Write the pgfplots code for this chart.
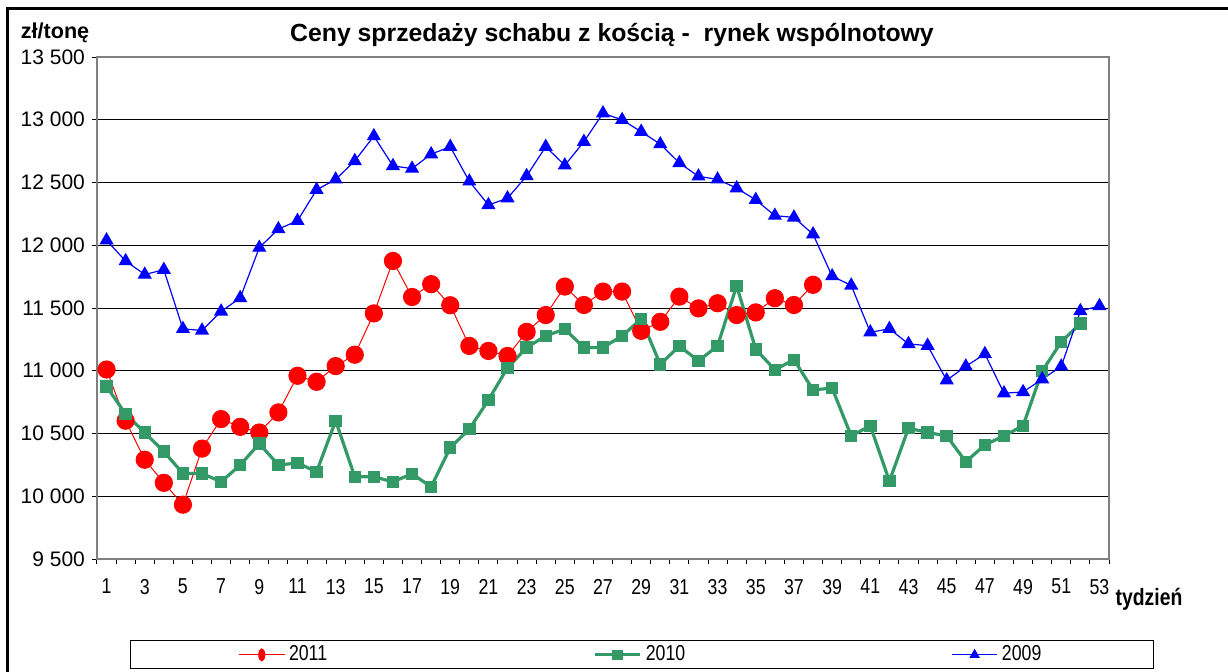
\documentclass[border=0pt]{standalone}
\usepackage{fontspec}
\setmainfont{Liberation Sans}
\newfontfamily\narrowfont[FakeStretch=0.82]{Liberation Sans}
\usepackage{pgfplots}
\pgfplotsset{compat=1.18}
\definecolor{c2011}{RGB}{255,0,0}
\definecolor{c2010}{RGB}{51,153,102}
\definecolor{c2009}{RGB}{0,0,255}

\begin{document}
\begin{tikzpicture}
\useasboundingbox (0,0) rectangle (614pt,-335.5pt);
% outer frame (top and left edges visible)
\draw[line width=1.5pt] (3.5pt,-336pt) -- (3.5pt,-4pt) -- (615pt,-4pt);
\node[font=\bfseries\fontsize{12.4}{14}\selectfont] at (306pt,-17.5pt) {Ceny sprzedaży schabu z kością -\ \ rynek wspólnotowy};
\node[font=\bfseries\fontsize{10.8}{12}\selectfont] at (27.5pt,-16.5pt) {zł/tonę};
\node[font=\narrowfont\bfseries\fontsize{11.8}{13}\selectfont] at (574.5pt,-299.5pt) {tydzień};

\begin{axis}[
  at={(48.5pt,-279.5pt)}, anchor=south west,
  scale only axis, width=506pt, height=251pt,
  xmin=0.5, xmax=53.5, ymin=9500, ymax=13500,
  ytick={9500,10000,...,13500},
  scaled y ticks=false,
  ymajorgrids, grid style={black, line width=0.5pt},
  axis line style={gray, line width=0.6pt},
  tick pos=left,
  tick align=outside, major tick length=2.5pt,
  tick style={black, line width=0.5pt},
  /pgf/number format/assume math mode=true,
  /pgf/number format/1000 sep={\ },
  yticklabel style={font=\fontsize{10.5}{11}\selectfont},
  xtick={0.5,1.5,...,53.5}, xticklabels={},
  extra x ticks={1,3,...,53},
  extra x tick style={major tick length=0pt,
    xticklabel style={font=\narrowfont\fontsize{10.8}{11}\selectfont, yshift=-6.5pt}},
  legend columns=3,
  legend style={at={(0.5385,-0.191)}, anchor=center, draw=black, line width=0.5pt,
    inner xsep=54pt, inner ysep=0.5pt,
    font=\narrowfont\fontsize{10.8}{11}\selectfont,
    /tikz/every even column/.append style={column sep=131pt}},
  legend image code/.code={\draw[mark repeat=2,mark phase=2] plot coordinates {(0cm,0cm) (0.4cm,0cm) (0.8cm,0cm)};},
]
\addplot[color=c2011, line width=0.5pt, mark=*, mark size=4.3pt,
  legend image post style={mark options={xscale=0.35, yscale=0.7}}]
coordinates {(1,11010) (2,10602) (3,10291) (4,10107) (5,9933) (6,10380) (7,10615) (8,10553) (9,10508) (10,10668)
(11,10960) (12,10912) (13,11037) (14,11128) (15,11457) (16,11875) (17,11588) (18,11690) (19,11522) (20,11198)
(21,11158) (22,11118) (23,11310) (24,11444) (25,11671) (26,11524) (27,11631) (28,11631) (29,11318) (30,11390)
(31,11591) (32,11497) (33,11538) (34,11444) (35,11465) (36,11578) (37,11524) (38,11685)};
\addlegendentry{2011}
\addplot[color=c2010, line width=1.6pt, mark=square*, mark size=2.3pt,
  legend image post style={mark options={scale=0.8}}]
coordinates {(1,10874) (2,10655) (3,10508) (4,10356) (5,10182) (6,10182) (7,10115) (8,10249) (9,10420) (10,10249)
(11,10265) (12,10195) (13,10602) (14,10155) (15,10155) (16,10115) (17,10179) (18,10075) (19,10388) (20,10535)
(21,10767) (22,11024) (23,11185) (24,11278) (25,11332) (26,11185) (27,11185) (28,11278) (29,11412) (30,11051)
(31,11198) (32,11078) (33,11198) (34,11677) (35,11171) (36,11008) (37,11088) (38,10848) (39,10861) (40,10481)
(41,10562) (42,10120) (43,10543) (44,10508) (45,10481) (46,10275) (47,10409) (48,10481) (49,10562) (50,10997)
(51,11230) (52,11377)};
\addlegendentry{2010}
\addplot[color=c2009, line width=0.6pt, mark=triangle*, mark size=3.5pt,
  legend image post style={mark options={scale=0.7}}]
coordinates {(1,12040) (2,11874) (3,11767) (4,11805) (5,11334) (6,11321) (7,11473) (8,11580) (9,11981) (10,12129)
(11,12195) (12,12442) (13,12525) (14,12672) (15,12870) (16,12632) (17,12611) (18,12726) (19,12785) (20,12509)
(21,12321) (22,12375) (23,12552) (24,12785) (25,12637) (26,12825) (27,13052) (28,12999) (29,12905) (30,12806)
(31,12656) (32,12549) (33,12525) (34,12455) (35,12362) (36,12236) (37,12222) (38,12088) (39,11754) (40,11680)
(41,11307) (42,11334) (43,11214) (44,11200) (45,10925) (46,11035) (47,11134) (48,10821) (49,10831) (50,10933)
(51,11035) (52,11476) (53,11516)};
\addlegendentry{2009}
\end{axis}
\end{tikzpicture}
\end{document}
